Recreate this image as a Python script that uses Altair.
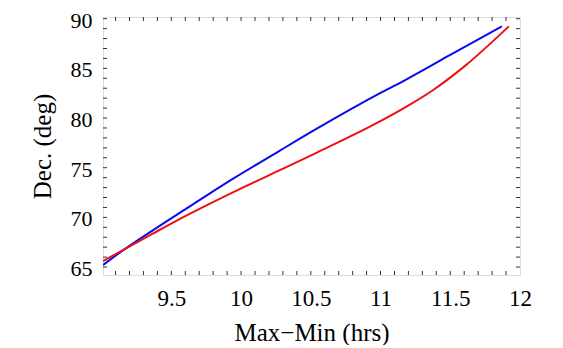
import altair as alt
import pandas as pd

# Curve readings (x: Max-Min hours, y: declination degrees)
blue_x = [9.01, 9.13, 9.37, 9.61, 9.92, 10.27, 10.54, 11.01, 11.18, 11.50, 11.87]
blue_y = [65.2, 66.45, 68.72, 70.9, 73.7, 76.65, 78.9, 82.6, 83.85, 86.35, 89.23]
red_x = [9.01, 9.13, 9.37, 9.61, 9.99, 10.27, 10.54, 10.94, 11.18, 11.37, 11.61, 11.92]
red_y = [65.6, 66.54, 68.39, 70.2, 72.85, 74.7, 76.5, 79.25, 81.1, 82.75, 85.3, 89.23]

x_labels = [9.5, 10, 10.5, 11, 11.5, 12]
y_labels = [65, 70, 75, 80, 85, 90]
x_minor = [round(9.1 + 0.1 * i, 1) for i in range(29)]
y_minor = [65 + i for i in range(26)]

X_DOMAIN = [9.01, 12.0]
Y_DOMAIN = [64.2, 90.17]
W, H = 417, 258
FONT = "Liberation Serif"

rows = [{"x": a, "y": b, "s": "blue", "o": i} for i, (a, b) in enumerate(zip(blue_x, blue_y))]
rows += [{"x": a, "y": b, "s": "red", "o": i} for i, (a, b) in enumerate(zip(red_x, red_y))]
df = pd.DataFrame(rows)

xs = alt.Scale(domain=X_DOMAIN, nice=False, zero=False)
ys = alt.Scale(domain=Y_DOMAIN, nice=False, zero=False)

x_axis = alt.Axis(values=x_labels, labelExpr="datum.value", tickSize=0, domain=False, grid=False,
                  labelFont=FONT, labelFontSize=23, labelColor="black", labelPadding=12,
                  labelOverlap=False, labelFlush=False,
                  title="Max\u2212Min (hrs)", titleFont=FONT, titleFontSize=25,
                  titleFontWeight="normal", titleColor="black", titlePadding=10)
y_axis = alt.Axis(values=y_labels, tickSize=0, domain=False, grid=False,
                  labelFont=FONT, labelFontSize=22, labelColor="black", labelPadding=11,
                  labelOffset=1.5, labelOverlap=False, labelFlush=False,
                  title="Dec.  (deg)", titleFont=FONT, titleFontSize=25,
                  titleFontWeight="normal", titleColor="black", titlePadding=15)

lines = alt.Chart(df).mark_line(strokeWidth=2, clip=True, interpolate="monotone").encode(
    x=alt.X("x:Q", scale=xs, axis=x_axis),
    y=alt.Y("y:Q", scale=ys, axis=y_axis),
    color=alt.Color("s:N", scale=alt.Scale(domain=["blue", "red"], range=["#0a0af0", "#ee1111"]), legend=None),
    order="o:Q",
)

xt = pd.DataFrame({"v": x_minor})
yt = pd.DataFrame({"v": y_minor})

tick_color = "#333333"
bottom = alt.Chart(xt).mark_rule(color=tick_color, strokeWidth=1).encode(
    x=alt.X("v:Q", scale=xs), y=alt.value(H), y2=alt.value(H - 4))
top = alt.Chart(xt).mark_rule(color=tick_color, strokeWidth=1).encode(
    x=alt.X("v:Q", scale=xs), y=alt.value(0), y2=alt.value(4))
left = alt.Chart(yt).mark_rule(color=tick_color, strokeWidth=1).encode(
    y=alt.Y("v:Q", scale=ys), x=alt.value(0), x2=alt.value(4))
right = alt.Chart(yt).mark_rule(color=tick_color, strokeWidth=1).encode(
    y=alt.Y("v:Q", scale=ys), x=alt.value(W), x2=alt.value(W - 4))

chart = alt.layer(lines, bottom, top, left, right).properties(
    width=W, height=H,
    autosize=alt.AutoSizeParams(type="none"),
    padding={"left": 95, "top": 9, "right": 30, "bottom": 70},
).configure_view(stroke="#777777", strokeWidth=1.2).configure(background="white")

chart.save("out.html", embed_options={"renderer": "svg", "actions": False})
